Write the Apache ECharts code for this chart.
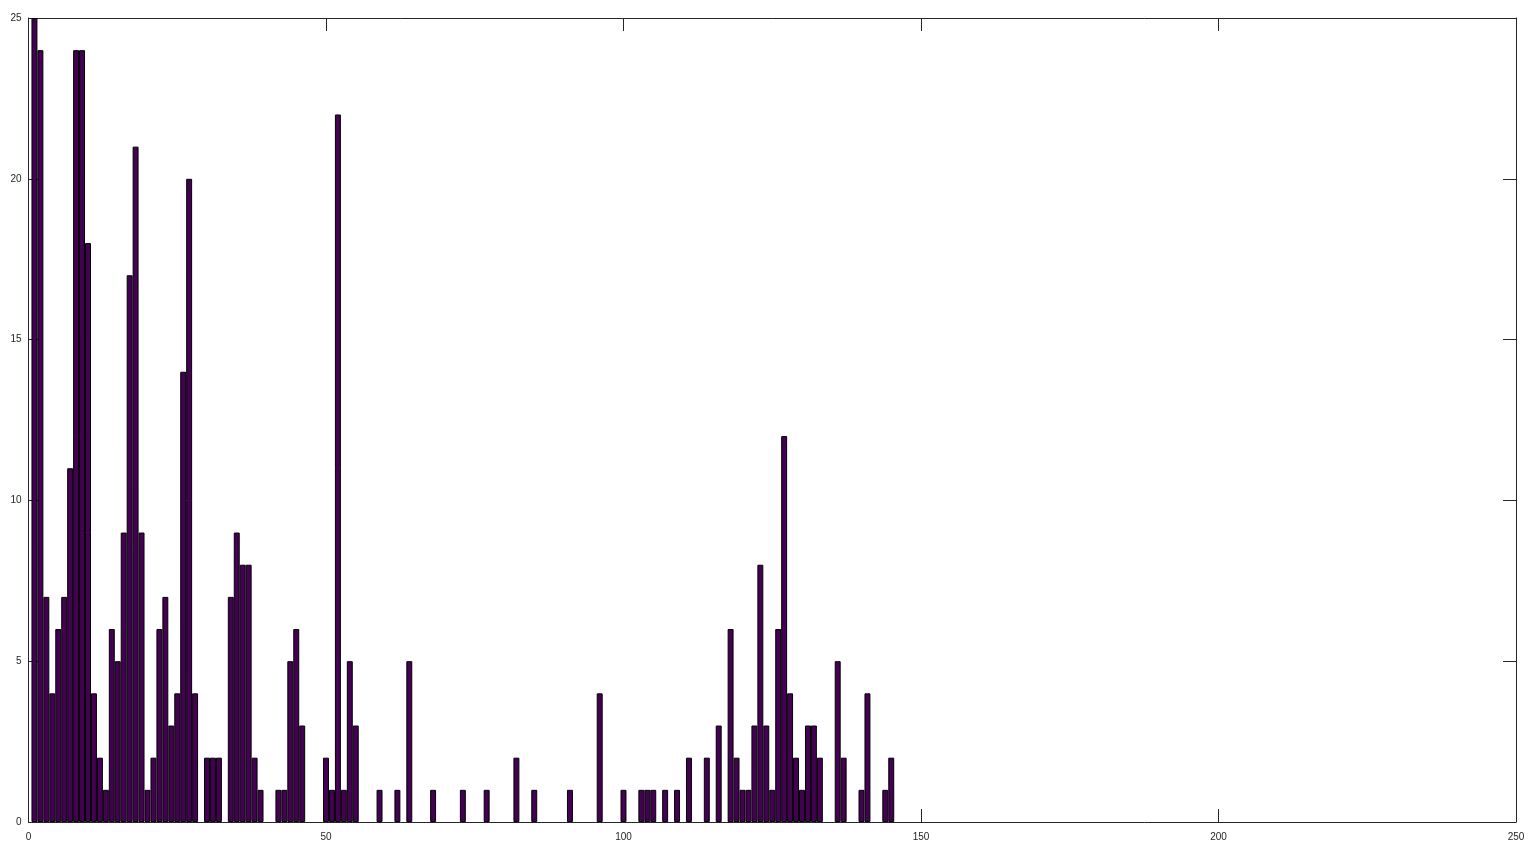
<!DOCTYPE html>
<html>
<head>
<meta charset="utf-8">
<script src="https://cdn.jsdelivr.net/npm/echarts@6/dist/echarts.min.js"></script>
<style>html,body{margin:0;padding:0;background:#fff}#c{width:1535px;height:860px}</style>
</head>
<body>
<div id="c"></div>
<script>
// Histogram: bin centres 1..145, counts
const binCenters = [];
for (let i = 1; i <= 145; i++) binCenters.push(i);
const counts = [
  25,24,7,4,6,7,11,24,24,18,      // 1-10
  4,2,1,6,5,9,17,21,9,1,          // 11-20
  2,6,7,3,4,14,20,4,0,2,          // 21-30
  2,2,0,7,9,8,8,2,1,0,            // 31-40
  0,1,1,5,6,3,0,0,0,2,            // 41-50
  1,22,1,5,3,0,0,0,1,0,           // 51-60
  0,1,0,5,0,0,0,1,0,0,            // 61-70
  0,0,1,0,0,0,1,0,0,0,            // 71-80
  0,2,0,0,1,0,0,0,0,0,            // 81-90
  1,0,0,0,0,4,0,0,0,1,            // 91-100
  0,0,1,1,1,0,1,0,1,0,            // 101-110
  2,0,0,2,0,3,0,6,2,1,            // 111-120
  1,3,8,3,1,6,12,4,2,1,           // 121-130
  3,3,2,0,0,5,2,0,0,1,            // 131-140
  4,0,0,1,2                       // 141-145
];
const xTicks = [0, 50, 100, 150, 200, 250];
const yTicks = [0, 5, 10, 15, 20, 25];

const seriesData = [];
binCenters.forEach((x, i) => { if (counts[i] > 0) seriesData.push([x, counts[i]]); });

const axisColor = '#262626';
const labelStyle = { color: axisColor, fontSize: 10, fontFamily: 'Liberation Sans, Arial, sans-serif' };
const xMin = xTicks[0], xMax = xTicks[xTicks.length - 1], xInt = xTicks[1] - xTicks[0];
const yMin = yTicks[0], yMax = yTicks[yTicks.length - 1], yInt = yTicks[1] - yTicks[0];

const chart = echarts.init(document.getElementById('c'), null, { renderer: 'canvas' });
chart.setOption({
  animation: false,
  backgroundColor: '#ffffff',
  grid: { left: 28.5, right: 19, top: 18, bottom: 38, containLabel: false },
  xAxis: [
    { type: 'value', position: 'bottom', min: xMin, max: xMax, interval: xInt,
      axisLine: { show: true, lineStyle: { color: axisColor, width: 1 } },
      axisTick: { show: true, inside: true, length: 13, lineStyle: { color: axisColor } },
      axisLabel: Object.assign({ margin: 10 }, labelStyle),
      splitLine: { show: false } },
    { type: 'value', position: 'top', min: xMin, max: xMax, interval: xInt,
      axisLine: { show: true, onZero: false, lineStyle: { color: axisColor, width: 1 } },
      axisTick: { show: true, inside: true, length: 13, lineStyle: { color: axisColor } },
      axisLabel: { show: false }, splitLine: { show: false } }
  ],
  yAxis: [
    { type: 'value', position: 'left', min: yMin, max: yMax, interval: yInt,
      axisLine: { show: true, onZero: false, lineStyle: { color: axisColor, width: 1 } },
      axisTick: { show: true, inside: true, length: 13, lineStyle: { color: axisColor } },
      axisLabel: Object.assign({ margin: 7 }, labelStyle),
      splitLine: { show: false } },
    { type: 'value', position: 'right', min: yMin, max: yMax, interval: yInt,
      axisLine: { show: true, onZero: false, lineStyle: { color: axisColor, width: 1 } },
      axisTick: { show: true, inside: true, length: 13, lineStyle: { color: axisColor } },
      axisLabel: { show: false }, splitLine: { show: false } }
  ],
  series: [{
    type: 'bar',
    xAxisIndex: 0, yAxisIndex: 0,
    data: seriesData,
    barWidth: '100%',
    itemStyle: { color: '#440154', borderColor: '#000000', borderWidth: 1 }
  }]
});
</script>
</body>
</html>
